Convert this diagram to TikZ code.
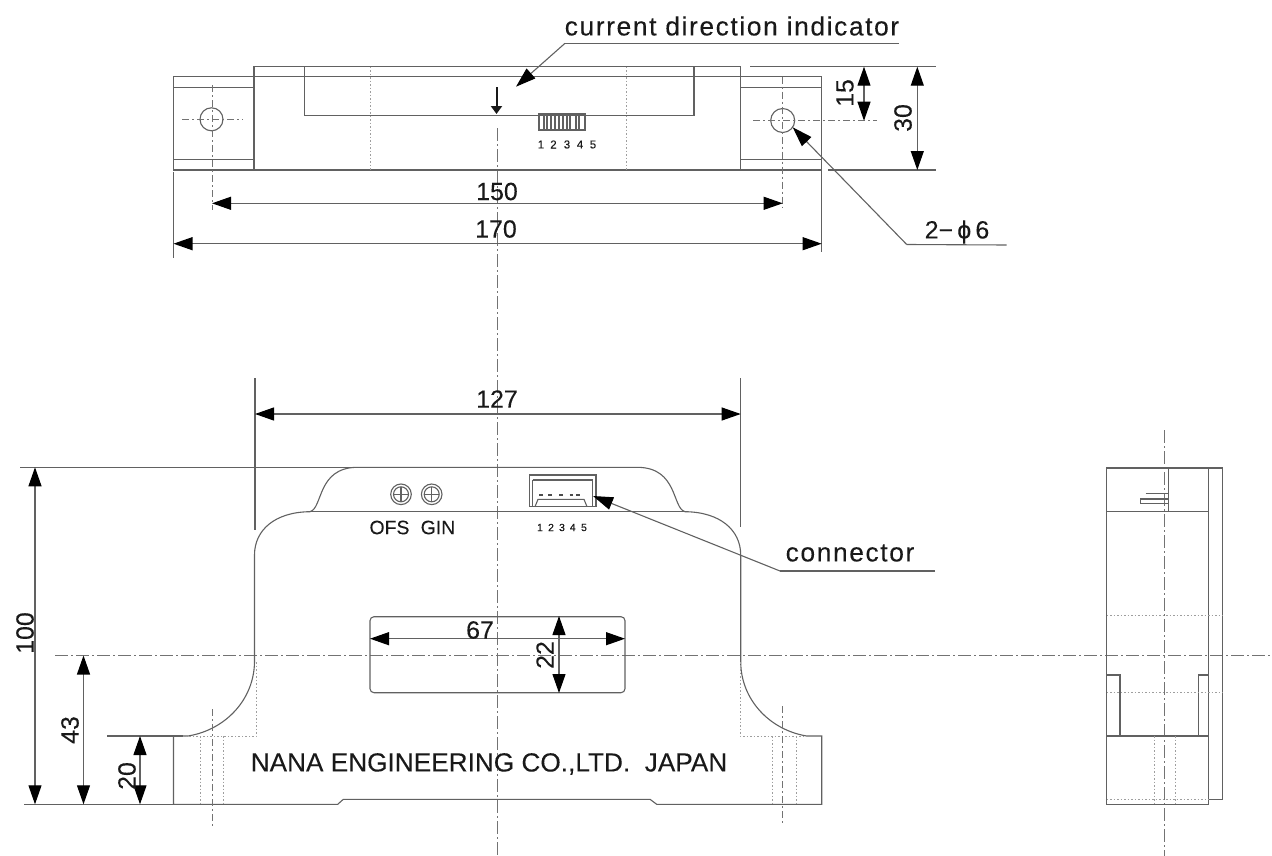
\documentclass[tikz,border=0pt]{standalone}
\usepackage{fontspec}
\setmainfont[FakeBold=0.12]{Liberation Sans}
\newfontfamily\wide[LetterSpace=6,FakeBold=0.12]{Liberation Sans}
\usetikzlibrary{arrows.meta}
\tikzset{
  x=1bp,y=-1bp,
  part/.style={draw=black!62,line width=1.1bp},
  extline/.style={draw=black!62,line width=1.1bp},
  hidden/.style={draw=black!38,line width=0.9bp,dash pattern=on 1.5bp off 2bp},
  axis/.style={draw=black!55,line width=0.9bp,dash pattern=on 13bp off 3bp on 2bp off 3bp},
  shortaxis/.style={draw=black!55,line width=0.9bp,dash pattern=on 7bp off 3bp on 2bp off 3bp},
  dimen/.style={draw=black!62,line width=1.1bp,{Triangle[length=19bp,width=13bp,black]}-{Triangle[length=19bp,width=13bp,black]}},
  leader/.style={draw=black!62,line width=1.1bp,-{Triangle[length=20bp,width=13bp,black]}},
  lab/.style={inner sep=0pt,text=black!90,font=\fontsize{25}{25}\selectfont},
  vlab/.style={lab,rotate=90},
  tiny/.style={inner sep=0pt,text=black!90,font=\fontsize{11.5}{11.5}\selectfont},
  small/.style={inner sep=0pt,text=black!90,font=\fontsize{19.5}{19.5}\selectfont},
}
\begin{document}
\begin{tikzpicture}
\useasboundingbox (0,0) rectangle (1272,856);
% ---------- centre lines
\draw[axis] (497.3,128) -- (497.3,856);
\draw[axis] (55,655.5) -- (1272,655.5);
\draw[axis] (1164,430) -- (1164,856);

% ---------- top view
\draw[part] (173.5,76.7) rectangle (821.7,170);
\draw[part] (254,66.7) rectangle (740.7,170);
\draw[part] (173.5,87.3) -- (254,87.3) (173.5,159.3) -- (254,159.3);
\draw[part] (740.7,87.3) -- (821.7,87.3) (740.7,159.3) -- (821.7,159.3);
\draw[part] (304.3,66.7) -- (304.3,115.7) -- (694,115.7) -- (694,66.7);
\draw[hidden] (370,66.7) -- (370,170) (626.7,66.7) -- (626.7,170);
\draw[part] (211.5,119.3) circle (11.5);
\draw[part] (782.7,120.5) circle (12);
\draw[shortaxis] (182,119.3) -- (243,119.3);
\draw[shortaxis] (212,85) -- (212,210);
\draw[shortaxis] (753,120.7) -- (877,120.7);
\draw[shortaxis] (782.7,76.7) -- (782.7,207);
\draw[black!90,line width=2bp,-{Triangle[length=8bp,width=11bp]}] (496.5,87) -- (496.5,114);
% terminal strip
\draw[part] (539,114) rectangle (585,130);
\foreach \xp in {544,547,551,555,559,563,567,570,576,579}{\draw[part] (\xp,114) -- (\xp,130);}
\foreach \xp/\t [count=\i] in {541/1,553.5/2,567/3,580/4,593/5}{\node[tiny] (ta\i) at (\xp,144.5) {\t};}
% dimensions of top view
\draw[extline] (173.5,172) -- (173.5,258);
\draw[extline] (821.7,76.7) -- (821.7,252);
\draw[dimen] (212,203.3) -- (782.7,203.3);
\draw[dimen] (173.5,243.7) -- (821.7,243.7);
\node[lab] (d150) at (497,191.5) {150};
\node[lab] (d170) at (496,229) {170};
\draw[extline] (750,66.7) -- (935.7,66.7);
\draw[extline] (828,170) -- (935.7,170);
\draw[dimen] (864,66.7) -- (864,120.7);
\draw[dimen] (917.3,66.7) -- (917.3,170);
\node[vlab] (d15) at (845,93) {15};
\node[vlab] (d30) at (903,118) {30};
% leaders of top view
\node[inner sep=0pt,text=black!90,font=\fontsize{26.5}{26.5}\wide] (cdi) at (732,26) {current direction indicator};
\coordinate (cdiA) at (899,43.3);
\coordinate (cdiB) at (565,43.3);
\coordinate (cdiT) at (516,86.7);
\draw[part] (cdiA) -- (cdiB);
\draw[leader] (cdiB) -- (cdiT);
\node[lab] (phi) at (957,232) {2−\,ϕ\,6};
\coordinate (phiA) at (1006.7,245);
\coordinate (phiB) at (906.7,244.5);
\coordinate (phiT) at (792.7,127.3);
\draw[part] (phiA) -- (phiB);
\draw[leader] (phiB) -- (phiT);

% ---------- front view
\draw[part] (173.5,736) -- (173.5,804.3) -- (337.7,804.3) -- (343.3,799.3) -- (650,799.3) -- (656.7,804.3) -- (821.7,804.3) -- (821.7,736) -- (806.7,736)
  .. controls (770,730) and (741,700) .. (740.7,662) -- (740.7,555)
  .. controls (740.7,530) and (720,512) .. (685,511.7)
  .. controls (672,508) and (678,468) .. (638,467.3)
  -- (356.7,467.3)
  .. controls (317,468) and (323,508) .. (310,511.7)
  .. controls (275,512) and (254.5,530) .. (254.5,555) -- (254.5,662)
  .. controls (254,700) and (225,730) .. (188,736) -- (173.5,736);
\draw[part] (310,511.7) -- (685,511.7);
\draw[hidden] (256.5,662) -- (256.5,736) -- (183,736);
\draw[hidden] (740,662) -- (740,736) -- (807,736);
\draw[hidden] (200.3,736) -- (200.3,804) (223.7,736) -- (223.7,804);
\draw[hidden] (772.7,736) -- (772.7,804) (796,736) -- (796,804);
\draw[shortaxis] (212,709) -- (212,826);
\draw[shortaxis] (782.5,706) -- (782.5,824);
% trimmers
\foreach \cx in {401,431.7}{
  \draw[part] (\cx,494.3) circle (10.3);
  \draw[part] (\cx,494.3) circle (7.5);
  \draw[part] (\cx-7,494.3) -- (\cx+7,494.3) (\cx,487.3) -- (\cx,501.3);
}
\node[small] (ofs) at (389.5,527.5) {OFS};
\node[small] (gin) at (438,527.5) {GIN};
% connector
\draw[part] (529.3,475) rectangle (596,506.7);
\draw[part] (532.7,480) -- (592.7,480) -- (592.7,506.7) (532.7,480) -- (532.7,506.7);
\draw[part] (535,506.7) -- (538,499.3) -- (584,499.3) -- (587,506.7);
\foreach \xp in {541,550,561,571.5,578}{\draw[black!70,line width=1.3bp] (\xp-1.8,495) -- (\xp+1.8,495);}
\foreach \xp/\t [count=\i] in {540/1,551/2,562/3,572.7/4,584/5}{\node[tiny,font=\fontsize{10.5}{10.5}\selectfont] (fa\i) at (\xp,527.5) {\t};}
\node[inner sep=0pt,text=black!90,font=\fontsize{26.5}{26.5}\wide] (con) at (850,553) {connector};
\coordinate (conA) at (935,571);
\coordinate (conB) at (780,571);
\coordinate (conT) at (593,496);
\draw[part] (conA) -- (conB);
\draw[leader] (conB) -- (conT);
% window
\draw[part,rounded corners=4bp] (370,616.7) rectangle (625,692.7);
\draw[dimen] (370,638.7) -- (625,638.7);
\draw[dimen] (559,616) -- (559,693);
\node[lab] (d67) at (480,630) {67};
\node[vlab] (d22) at (545,655) {22};
\node[inner sep=0pt,text=black!90,font=\fontsize{26.3}{26.3}\selectfont] (nana) at (489,764) {NANA ENGINEERING CO.,LTD.\ \ JAPAN};
% dimensions of front view
\draw[extline] (255,378) -- (255,530);
\draw[extline] (740.7,378) -- (740.7,527);
\draw[dimen] (255,414) -- (740.7,414);
\node[lab] (d127) at (497,399) {127};
\draw[extline] (20,467.3) -- (356.7,467.3);
\draw[extline] (24,804.3) -- (173.5,804.3);
\draw[extline] (107,736) -- (183,736);
\draw[dimen] (35,467.3) -- (35,804.3);
\draw[dimen] (83.5,655.5) -- (83.5,804.3);
\draw[dimen] (140,736) -- (140,804.3);
\node[vlab] (d100) at (25,633) {100};
\node[vlab] (d43) at (70,730) {43};
\node[vlab] (d20) at (127,776) {20};

% ---------- side view
\draw[part] (1106.7,468) rectangle (1208.3,804.3);
\draw[part] (1208.3,468) -- (1222.3,468) -- (1222.3,799.3) -- (1208.3,799.3);
\draw[part] (1106.7,511.3) -- (1208.3,511.3);
\draw[part] (1168.3,468) -- (1168.3,511.3);
\draw[part] (1145.7,493.3) -- (1168.3,493.3);
\draw[part] (1168.3,499) -- (1140.7,499) -- (1140.7,503.7) -- (1168.3,503.7);
\draw[part] (1106.7,675) -- (1120,675) -- (1120,736);
\draw[part] (1208.3,675) -- (1198.3,675) -- (1198.3,736);
\draw[part] (1106.7,736) -- (1208.3,736);
\draw[hidden] (1106.7,615) -- (1222.3,615) (1106.7,692.3) -- (1222.3,692.3);
\draw[hidden] (1154.3,736) -- (1154.3,804) (1175.7,736) -- (1175.7,804);
\draw[hidden] (1106.7,799.3) -- (1208.3,799.3);
\end{tikzpicture}
\end{document}
